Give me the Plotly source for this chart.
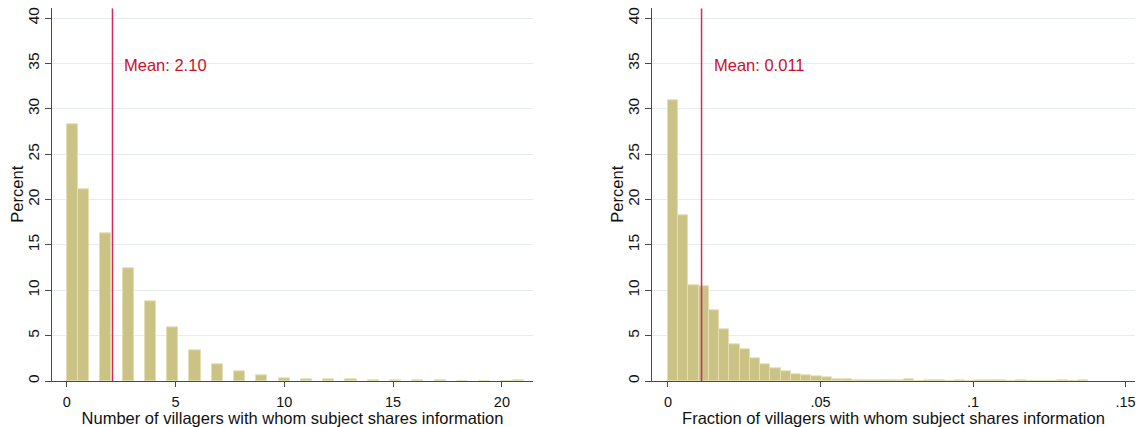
import math
import plotly.graph_objects as go

# ---- data -------------------------------------------------------------
# Left panel: number of villagers a subject shares information with
degree = list(range(0, 22))
degree_pct = [28.24, 21.16, 16.27, 12.45, 8.78, 5.87, 3.36, 1.84, 1.12, 0.66,
              0.34, 0.22, 0.15, 0.15, 0.08, 0.06, 0.05, 0.05, 0.0, 0.0, 0.0, 0.05]
degree_mean = 2.10
degree_max = 21
n_bins = 41

# Right panel: share of villagers a subject shares information with (41 bins)
frac_pct = [30.96, 18.30, 10.58, 10.47, 7.79, 5.69, 4.08, 3.53, 2.50, 1.84,
            1.40, 1.07, 0.77, 0.59, 0.48, 0.40, 0.15, 0.22, 0.12, 0.10,
            0.08, 0.04, 0.03, 0.14, 0.02, 0.05, 0.05, 0.0, 0.06, 0.0,
            0.04, 0.04, 0.04, 0.0, 0.05, 0.0, 0.0, 0.0, 0.04, 0.0, 0.05]
frac_mean = 0.011
frac_max = 0.1377

y_ticks = [0, 5, 10, 15, 20, 25, 30, 35, 40]
left_xticks = [0, 5, 10, 15, 20]
right_xticks = [0, 0.05, 0.10, 0.15]
right_xticktext = ["0", ".05", ".1", ".15"]

# ---- styling ----------------------------------------------------------
W, H = 1141, 427
FONT = "Liberation Sans, Arial, Helvetica, sans-serif"
BAR_FILL = "#cbc385"
BAR_EDGE = "#e4deb2"
MEAN_LINE = "#d42a5a"
MEAN_TEXT = "#c8102e"
AXIS = "#4a4a4a"
GRID = "#e4edf0"
TEXT = "#111111"
Y_TOP = 41.07


def px_x(p):
    return p / W


def px_y(p):
    return 1 - p / H


# Stata-style binning of the integer counts into equal-width bins on [0, max]
w_left = degree_max / n_bins
left_centers = []
for v in degree:
    idx = min(int(math.floor(v / w_left)), n_bins - 1)
    left_centers.append(idx * w_left + w_left / 2)

w_right = frac_max / len(frac_pct)
right_centers = [(i + 0.5) * w_right for i in range(len(frac_pct))]

fig = go.Figure()
fig.add_trace(go.Bar(
    x=left_centers, y=degree_pct, width=w_left,
    marker=dict(color=BAR_FILL, line=dict(color=BAR_EDGE, width=1)),
    xaxis="x", yaxis="y", showlegend=False,
))
fig.add_trace(go.Bar(
    x=right_centers, y=frac_pct, width=w_right,
    marker=dict(color=BAR_FILL, line=dict(color=BAR_EDGE, width=1)),
    xaxis="x2", yaxis="y2", showlegend=False,
))

common_x = dict(
    showline=True, linecolor=AXIS, linewidth=1.2,
    ticks="outside", ticklen=5, tickcolor=AXIS, tickwidth=1.2,
    showgrid=False, zeroline=False, automargin=False,
    ticklabelstandoff=2,
    tickfont=dict(family=FONT, size=14.5, color=TEXT),
    title_font=dict(family=FONT, size=16.5, color=TEXT),
)
common_y = dict(
    range=[0, Y_TOP], tickvals=y_ticks, tickangle=-90,
    showline=True, linecolor=AXIS, linewidth=1.2,
    ticks="outside", ticklen=6, tickcolor=AXIS, tickwidth=1.2,
    showgrid=True, gridcolor=GRID, gridwidth=1, zeroline=False,
    automargin=False, ticklabelstandoff=0,
    tickfont=dict(family=FONT, size=15.5, color=TEXT),
)

y_dom = [px_y(381), px_y(8.3)]

fig.update_layout(
    width=W, height=H, autosize=False,
    margin=dict(l=0, r=0, t=0, b=0),
    paper_bgcolor="white", plot_bgcolor="white",
    bargap=0,
    font=dict(family=FONT),
    xaxis=dict(common_x, domain=[px_x(52), px_x(533)],
               range=[-0.68, 21.43], tickvals=left_xticks,
               title=dict(text="Number of villagers with whom subject shares information",
                          standoff=3), anchor="y"),
    yaxis=dict(common_y, domain=y_dom, anchor="x"),
    xaxis2=dict(common_x, domain=[px_x(652), px_x(1135)],
                range=[-0.00524, 0.1531], tickvals=right_xticks,
                ticktext=right_xticktext,
                title=dict(text="Fraction of villagers with whom subject shares information",
                           standoff=3), anchor="y2"),
    yaxis2=dict(common_y, domain=y_dom, anchor="x2"),
)

# Vertical "Percent" axis titles, placed left of the rotated tick labels
for x_px in (17, 617):
    fig.add_annotation(xref="paper", yref="paper", x=px_x(x_px),
                       y=(y_dom[0] + y_dom[1]) / 2, text="Percent",
                       textangle=-90, showarrow=False,
                       xanchor="center", yanchor="middle",
                       font=dict(family=FONT, size=16.5, color=TEXT))

# Mean markers
for xref, yref, m, label in [("x", "y", degree_mean, f"Mean: {degree_mean:.2f}"),
                             ("x2", "y2", frac_mean, f"Mean: {frac_mean:.3f}")]:
    fig.add_shape(type="line", xref=xref, yref=yref, x0=m, x1=m, y0=0, y1=Y_TOP,
                  line=dict(color=MEAN_LINE, width=1.5), layer="above")
    fig.add_annotation(xref=xref, yref=yref, x=m, y=34.8, text=label,
                       showarrow=False, xanchor="left", yanchor="middle",
                       xshift=10, font=dict(family=FONT, size=16.5, color=MEAN_TEXT))

fig.write_html("out.html")
